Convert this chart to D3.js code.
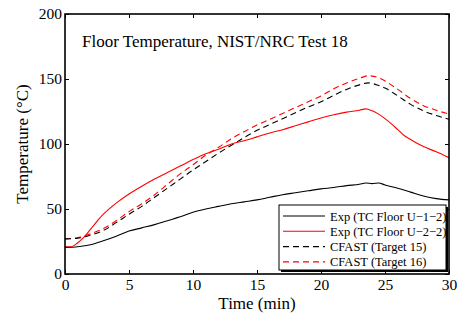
<!DOCTYPE html>
<html><head><meta charset="utf-8">
<script src="https://cdn.jsdelivr.net/npm/d3@7"></script>
<style>body{margin:0;background:#fff}svg{display:block}</style>
</head><body>
<svg id="c" width="464" height="320"></svg>
<script>
const title = "Floor Temperature, NIST/NRC Test 18";
const xLabel = "Time (min)";
const yLabel = "Temperature (°C)";
const xTicks = [0,5,10,15,20,25,30];
const yTicks = [0,50,100,150,200];
const seriesNames = ["Exp (TC Floor U\u22121\u22122)","Exp (TC Floor U\u22122\u22122)","CFAST (Target 15)","CFAST (Target 16)"];
const seriesColors = ["#000","#ff0000","#000","#ff0000"];
const seriesDashed = [false,false,true,true];

const expU12T = [0,1,2,3,4,5,6,7,8,9,10,11,12,13,14,15,16,17,18,19,20,21,22,23,23.5,24,24.5,25,26,27,28,29,30];
const expU12V = [20.5,21,22.5,25.5,29,33,35.5,38,41,44,47.5,50,52,54,55.5,57,59,61,62.5,64,65.5,66.5,68,69,70,69.5,70,68.5,66,63,60,58,57];
const expU22T = [0,0.5,1,1.5,2,2.5,3,3.5,4,5,6,7,8,9,10,11,12,13,14,15,16,17,18,19,20,21,22,23,23.5,24,24.5,25,25.5,26,26.5,27,27.5,28,29,30];
const expU22V = [21,21,24,28.5,34.5,40.5,46,50.5,54.5,61.5,67.5,73,78,83,88,92.5,96,100,102.5,105.5,108.5,111,114,117,120,122.5,124.5,126,127,125.5,123,119.5,115.5,111,106.5,103.5,100.5,98,94,89.5];
const cfastT = [0,1,2,3,4,5,6,7,8,9,10,11,12,13,14,15,16,17,18,19,20,21,22,23,23.7,24.5,25,26,27,28,29,30];
const cfast15V = [27,27.5,30,33.5,39.5,46,52,59,66,73,80,86.5,93,99,105,110.5,115,119.5,124,128.5,132.5,137.5,142,145.5,147,145,143,137,130.5,125.5,122,119];
const cfast16V = [27,28,31,35,41,48,54,61,69,77,84,91.5,97.5,104,109.5,114.6,119,123.5,128,132.5,137,142.5,147,150.5,152.5,151,148.5,142,135,129.5,126,123];

const seriesT = [expU12T, expU22T, cfastT, cfastT];
const seriesV = [expU12V, expU22V, cfast15V, cfast16V];

const FONT = "'Liberation Serif', 'Times New Roman', Times, serif";
const L=65,R=449,T=14,B=274;
const x = d3.scaleLinear().domain([0,30]).range([L,R]);
const y = d3.scaleLinear().domain([0,200]).range([B,T]);
const svg = d3.select("#c");

const line = d3.line().x(d=>x(d[0])).y(d=>y(d[1])).curve(d3.curveMonotoneX);
svg.append("clipPath").attr("id","cp").append("rect").attr("x",L).attr("y",T).attr("width",R-L).attr("height",B-T);
const plot = svg.append("g").attr("clip-path","url(#cp)");
[3,2,0,1].forEach(i=>{
  const pts = seriesT[i].map((t,j)=>[t,seriesV[i][j]]);
  plot.append("path").attr("d",line(pts)).attr("fill","none")
    .attr("stroke",seriesColors[i]).attr("stroke-width",1.1)
    .attr("stroke-dasharray",seriesDashed[i]?"6,4":null);
});

const ax = svg.append("g");
ax.append("g").attr("transform",`translate(0,${B})`).call(d3.axisBottom(x).tickValues(xTicks).tickSizeInner(-4).tickSizeOuter(0).tickPadding(5));
ax.append("g").attr("transform",`translate(0,${T})`).call(d3.axisTop(x).tickValues(xTicks).tickSizeInner(-4).tickSizeOuter(0).tickFormat(""));
ax.append("g").attr("transform",`translate(${L},0)`).call(d3.axisLeft(y).tickValues(yTicks).tickSizeInner(-4).tickSizeOuter(0).tickPadding(3));
ax.append("g").attr("transform",`translate(${R},0)`).call(d3.axisRight(y).tickValues(yTicks).tickSizeInner(-4).tickSizeOuter(0).tickFormat(""));
ax.selectAll(".domain").remove();
ax.selectAll(".tick line").attr("stroke","#000").attr("stroke-width",1);
ax.selectAll(".tick text").style("font-family",FONT).style("font-size","15.5px").attr("fill","#000");
svg.append("rect").attr("x",L).attr("y",T).attr("width",R-L).attr("height",B-T).attr("fill","none").attr("stroke","#000").attr("stroke-width",1.6);

function txt(sel){ return sel.style("font-family",FONT).attr("fill","#000"); }
txt(svg.append("text").attr("x",82).attr("y",47).style("font-size","17px").text(title));
txt(svg.append("text").attr("x",(L+R)/2).attr("y",309).attr("text-anchor","middle").style("font-size","17px").text(xLabel));
txt(svg.append("text").attr("transform",`translate(28,${(T+B)/2}) rotate(-90)`).attr("text-anchor","middle").style("font-size","17px").text(yLabel));

const lg = svg.append("g");
const lx=279, ly=205, lw=167, lh=65;
lg.append("rect").attr("x",lx+2).attr("y",ly+2).attr("width",lw).attr("height",lh).attr("fill","#000");
lg.append("rect").attr("x",lx).attr("y",ly).attr("width",lw).attr("height",lh).attr("fill","#fff").attr("stroke","#000").attr("stroke-width",1);
seriesNames.forEach((n,i)=>{
  const yy = ly+11+i*15.3;
  lg.append("line").attr("x1",lx+4).attr("x2",lx+46).attr("y1",yy).attr("y2",yy)
    .attr("stroke",seriesColors[i]).attr("stroke-width",1.1).attr("stroke-dasharray",seriesDashed[i]?"6,4":null);
  txt(lg.append("text").attr("x",lx+51).attr("y",yy+4.5).style("font-size","12.5px").text(n));
});
</script>
</body></html>
